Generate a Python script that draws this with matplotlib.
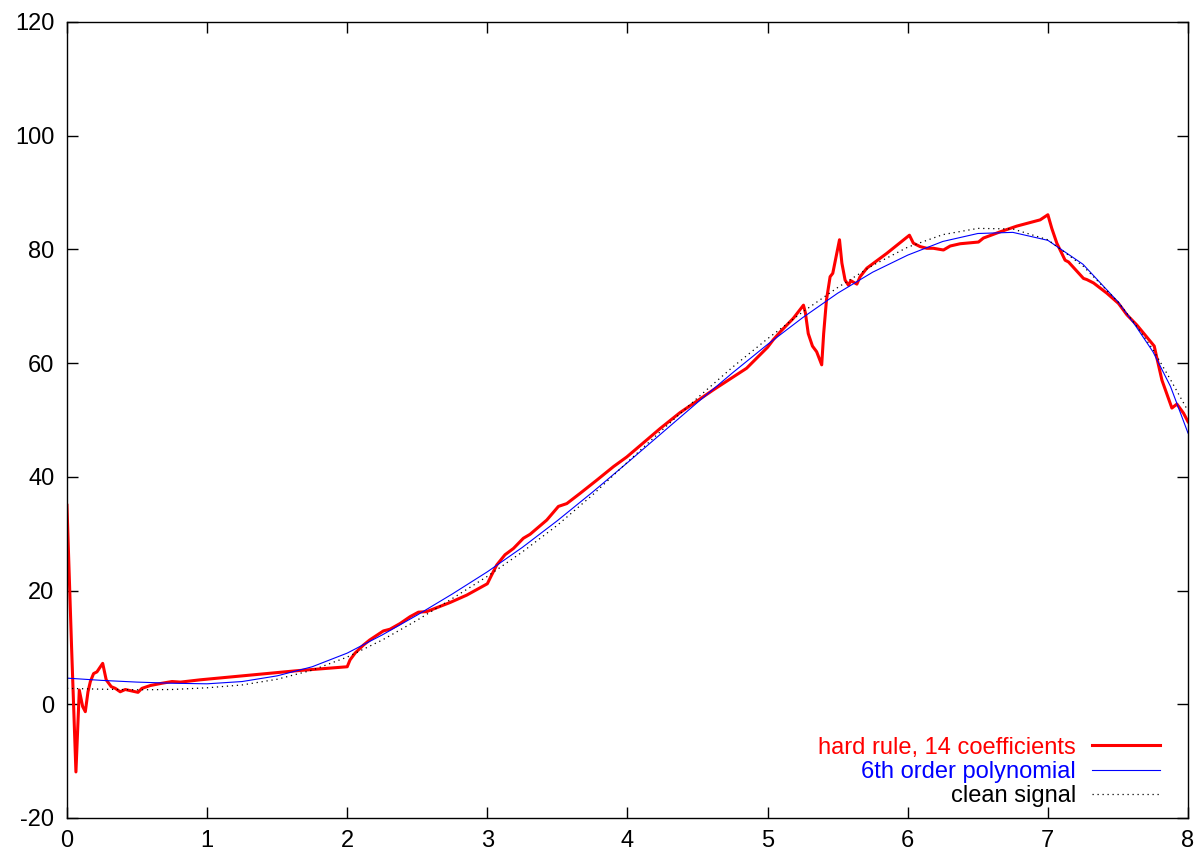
import matplotlib
matplotlib.use("Agg")
import matplotlib.pyplot as plt

plt.rcParams['font.family'] = ['Liberation Sans', 'DejaVu Sans']
plt.rcParams['axes.unicode_minus'] = False

# hard rule reconstruction
hard_x = [0.0, 0.033, 0.064, 0.088, 0.112, 0.131, 0.15, 0.167, 0.19, 0.214, 0.255,
          0.28, 0.316, 0.345, 0.38, 0.416, 0.452, 0.507, 0.535, 0.595, 0.678, 0.75,
          0.81, 0.95, 1.64, 2.0, 2.02, 2.056, 2.115, 2.16, 2.258, 2.305, 2.377, 2.448,
          2.508, 2.567, 2.734, 2.853, 3.0, 3.03, 3.067, 3.126, 3.186, 3.257, 3.305,
          3.424, 3.507, 3.567, 3.662, 3.78, 3.9, 3.995, 4.138, 4.233, 4.375, 4.613,
          4.85, 5.0, 5.04, 5.09, 5.184, 5.256, 5.27, 5.29, 5.32, 5.35, 5.386, 5.4,
          5.42, 5.446, 5.465, 5.513, 5.53, 5.553, 5.577, 5.594, 5.637, 5.66, 5.708,
          5.85, 6.012, 6.04, 6.088, 6.136, 6.183, 6.255, 6.303, 6.374, 6.505, 6.54,
          6.66, 6.778, 6.945, 7.0, 7.028, 7.064, 7.123, 7.147, 7.254, 7.278, 7.326,
          7.421, 7.504, 7.564, 7.635, 7.759, 7.778, 7.814, 7.885, 7.921, 7.968, 8.0]
hard_y = [35.0, 10.0, -11.9, 2.5, -0.4, -1.3, 2.2, 4.0, 5.4, 5.7, 7.2,
          4.3, 3.1, 2.8, 2.2, 2.6, 2.4, 2.1, 2.8, 3.3, 3.7, 4.0,
          3.9, 4.3, 5.9, 6.6, 7.8, 9.0, 10.4, 11.3, 12.9, 13.2, 14.2, 15.4,
          16.2, 16.3, 17.9, 19.2, 21.2, 22.7, 24.5, 26.3, 27.4, 29.2, 29.9,
          32.4, 34.8, 35.3, 37.1, 39.4, 41.8, 43.5, 46.5, 48.5, 51.3, 55.3,
          59.1, 62.8, 64.1, 65.5, 67.9, 70.2, 68.8, 65.2, 63.0, 62.0, 59.7, 65.2,
          71.1, 75.2, 75.8, 81.7, 77.6, 74.6, 73.7, 74.5, 73.9, 75.2, 76.7,
          79.3, 82.5, 81.1, 80.5, 80.2, 80.2, 79.9, 80.6, 81.0, 81.3, 82.0,
          83.1, 84.1, 85.2, 86.1, 83.7, 81.1, 78.1, 77.8, 74.9, 74.7, 74.1,
          72.3, 70.5, 68.5, 66.7, 63.0, 60.9, 57.0, 52.1, 52.8, 51.2, 49.7]

grid_x = [0.0, 0.25, 0.5, 0.75, 1.0, 1.25, 1.5, 1.75, 2.0, 2.25, 2.5, 2.75, 3.0,
          3.25, 3.5, 3.75, 4.0, 4.25, 4.5, 4.75, 5.0, 5.25, 5.5, 5.75, 6.0,
          6.25, 6.5, 6.75, 7.0, 7.25, 7.5, 7.625, 7.75, 7.875, 8.0]
poly_y = [4.6, 4.2, 3.9, 3.7, 3.6, 4.0, 5.0, 6.6, 9.0, 12.2, 15.7, 19.4, 23.3,
          27.6, 32.3, 37.3, 42.5, 47.8, 53.1, 58.3, 63.3, 68.0, 72.3, 76.0, 79.0,
          81.4, 82.8, 83.0, 81.6, 77.4, 70.8, 66.6, 62.0, 55.9, 47.7]
clean_y = [2.8, 2.65, 2.55, 2.6, 2.9, 3.4, 4.4, 6.0, 8.3, 11.3, 14.8, 18.6, 22.5,
           26.8, 31.5, 36.8, 42.6, 48.3, 53.9, 59.3, 64.3, 69.0, 73.3, 77.2, 80.4,
           82.6, 83.7, 83.6, 81.7, 77.1, 70.8, 66.8, 62.4, 57.1, 51.6]

fig = plt.figure(figsize=(12, 8.56), dpi=100)
ax = fig.add_axes([0.0558, 0.0444, 0.9342, 0.9299])

ax.plot(hard_x, hard_y, color='#ff0000', lw=2.2, label='hard rule, 14 coefficients')
ax.plot(grid_x, poly_y, color='#0000ff', lw=0.8, label='6th order polynomial')
ax.plot(grid_x, clean_y, color='black', lw=0.9, ls=(0, (1, 3)), label='clean signal')

ax.set_xlim(0, 8)
ax.set_ylim(-20, 120)
ax.set_xticks(range(0, 9))
ax.set_yticks(range(-20, 121, 20))
ax.tick_params(direction='in', length=8, width=1, top=True, right=True,
               labelsize=17, pad=9)
for s in ax.spines.values():
    s.set_linewidth(1)

leg = ax.legend(loc='lower right', frameon=False, fontsize=17, markerfirst=False,
                handlelength=2.88, handletextpad=0.68, labelspacing=0.09,
                borderpad=0, borderaxespad=0,
                bbox_to_anchor=(1 - 28 / 1121, 11 / 796))
for txt, line in zip(leg.get_texts(), leg.get_lines()):
    txt.set_color(line.get_color())
    txt.set_ha('right')

fig.savefig('out.png', dpi=100)
